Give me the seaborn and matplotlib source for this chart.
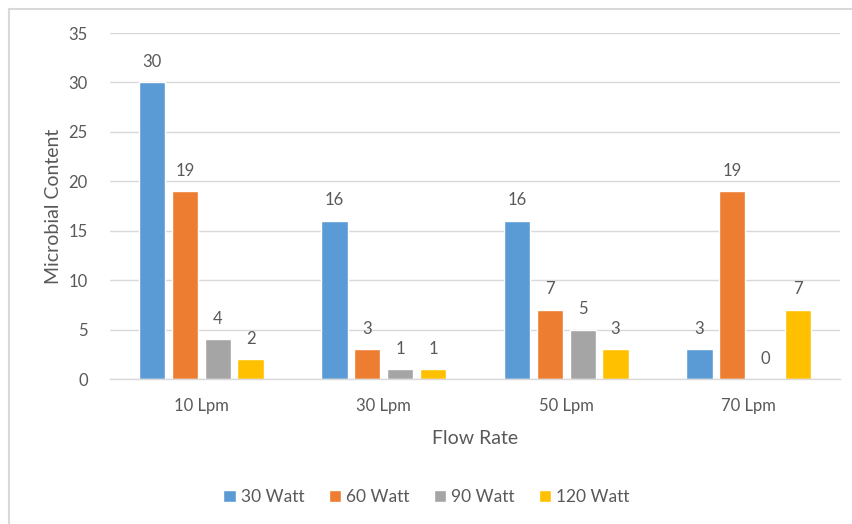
import seaborn as sns
import matplotlib.pyplot as plt
import pandas as pd
from matplotlib.lines import Line2D

# Data
flow_rates = ["10 Lpm", "30 Lpm", "50 Lpm", "70 Lpm"]
watt_30 = [30, 16, 16, 3]
watt_60 = [19, 3, 7, 19]
watt_90 = [4, 1, 5, 0]
watt_120 = [2, 1, 3, 7]
series_names = ["30 Watt", "60 Watt", "90 Watt", "120 Watt"]
colors = ["#5B9BD5", "#ED7D31", "#A5A5A5", "#FFC000"]

rows = []
for name, vals in zip(series_names, [watt_30, watt_60, watt_90, watt_120]):
    for fr, v in zip(flow_rates, vals):
        rows.append({"Flow Rate": fr, "Power": name, "Microbial Content": v})
df = pd.DataFrame(rows)

sns.set_style("white")
plt.rcParams["font.family"] = ["Lato", "DejaVu Sans"]
text_color = "#595959"

fig = plt.figure(figsize=(8.53, 5.24), dpi=100)
ax = fig.add_axes([110 / 853, 1 - 379 / 524, 730 / 853, 346 / 524])

sns.barplot(data=df, x="Flow Rate", y="Microbial Content", hue="Power",
            palette=colors, width=0.72, gap=0.2, ax=ax, legend=True,
            saturation=1, errorbar=None)

for cont in ax.containers:
    ax.bar_label(cont, labels=[f"{int(v)}" for v in cont.datavalues],
                 padding=9, fontsize=12, color=text_color)

ax.set_ylim(0, 35)
ax.set_yticks(range(0, 36, 5))
ax.set_xlim(-0.5, 3.5)
ax.yaxis.grid(True, color="#D9D9D9", linewidth=1)
ax.set_axisbelow(True)
for side in ["top", "right", "left"]:
    ax.spines[side].set_visible(False)
ax.spines["bottom"].set_color("#D9D9D9")
ax.spines["bottom"].set_linewidth(1)
ax.tick_params(axis="both", length=0, labelsize=12, labelcolor=text_color)
ax.tick_params(axis="y", pad=16)
ax.tick_params(axis="x", pad=14)

ax.set_xlabel("Flow Rate", fontsize=14, color=text_color, labelpad=11)
ax.set_ylabel("Microbial Content", fontsize=14, color=text_color, labelpad=5)

handles, labels = ax.get_legend_handles_labels()
ax.legend(handles, labels, loc="center", bbox_to_anchor=(0.5, (524 - 497) / 524),
          bbox_transform=fig.transFigure, ncol=4, frameon=False, fontsize=12.5,
          handlelength=0.7, handleheight=0.7, handletextpad=0.3,
          columnspacing=1.4, labelcolor=text_color)

# chart-area border (Excel style)
fig.add_artist(Line2D([9 / 853, 9 / 853], [0, 1 - 9 / 524],
                      transform=fig.transFigure, color="#D9D9D9", linewidth=1.5))
fig.add_artist(Line2D([9 / 853, 1], [1 - 9 / 524, 1 - 9 / 524],
                      transform=fig.transFigure, color="#D9D9D9", linewidth=1.5))

fig.savefig("out.png", dpi=100)
